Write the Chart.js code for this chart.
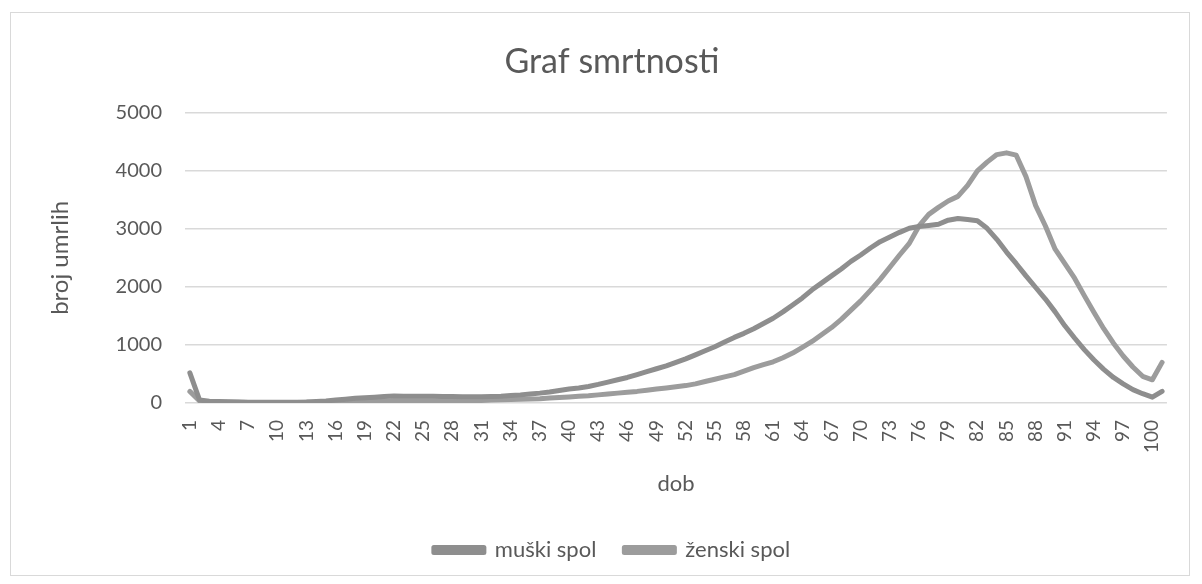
<!DOCTYPE html>
<html>
<head>
<meta charset="utf-8">
<script src="https://cdn.jsdelivr.net/npm/chart.js@4"></script>
<style>
  html, body { margin: 0; padding: 0; background: #ffffff; }
  #wrap { position: absolute; left: 0; top: 0; width: 1202px; height: 584px; }
  #frame { position: absolute; left: 10px; top: 12px; width: 1180px; height: 564px; border: 1px solid #d9d9d9; box-sizing: border-box; pointer-events: none; }
</style>
</head>
<body>
<div id="wrap"><canvas id="c" width="1202" height="584"></canvas></div>
<div id="frame"></div>
<script>
// Age categories 1..101
const ages = [
  1,2,3,4,5,6,7,8,9,10,11,12,13,14,15,16,17,18,19,20,
  21,22,23,24,25,26,27,28,29,30,31,32,33,34,35,36,37,38,39,40,
  41,42,43,44,45,46,47,48,49,50,51,52,53,54,55,56,57,58,59,60,
  61,62,63,64,65,66,67,68,69,70,71,72,73,74,75,76,77,78,79,80,
  81,82,83,84,85,86,87,88,89,90,91,92,93,94,95,96,97,98,99,100,101
];

const muskiSpol = [
  520,50,30,25,20,18,15,14,13,12,13,15,18,25,35,50,65,80,90,100,
  110,120,118,115,115,115,112,110,108,108,108,112,118,130,140,155,170,190,215,240,
  260,285,320,360,400,440,490,540,590,640,700,760,830,900,970,1050,1130,1200,1280,1370,
  1460,1570,1690,1810,1950,2070,2190,2310,2440,2550,2670,2780,2860,2940,3010,3040,3060,3080,3150,3180,
  3160,3140,3010,2820,2600,2400,2190,1990,1790,1570,1330,1120,920,740,580,440,330,230,160,100,200
];

const zenskiSpol = [
  200,35,20,15,13,12,10,10,10,10,10,10,12,15,18,22,25,28,30,32,
  35,38,38,38,38,38,38,40,40,42,45,50,55,60,65,70,75,85,95,105,
  115,125,140,155,170,185,200,220,240,260,280,300,330,370,410,450,490,550,610,660,
  710,780,860,960,1060,1180,1300,1440,1600,1760,1940,2130,2340,2550,2750,3050,3250,3370,3480,3560,
  3750,4000,4150,4280,4310,4270,3900,3400,3050,2650,2400,2150,1850,1560,1280,1030,810,620,460,400,700
];

const yTicks = [0, 1000, 2000, 3000, 4000, 5000];

const FONT = 'Lato, "Open Sans", sans-serif';
const TXT = '#595959';
const GRID = '#d9d9d9';
const C_M = '#8e8e8e';
const C_Z = '#9c9c9c';

new Chart(document.getElementById('c'), {
  type: 'line',
  data: {
    labels: ages.map(String),
    datasets: [
      { label: 'muški spol', data: muskiSpol, borderColor: C_M, backgroundColor: C_M,
        borderWidth: 5, pointRadius: 0, tension: 0, borderCapStyle: 'round', borderJoinStyle: 'round' },
      { label: 'ženski spol', data: zenskiSpol, borderColor: C_Z, backgroundColor: C_Z,
        borderWidth: 5, pointRadius: 0, tension: 0, borderCapStyle: 'round', borderJoinStyle: 'round' }
    ]
  },
  options: {
    responsive: false,
    animation: false,
    devicePixelRatio: 1,
    layout: { padding: { left: 46, right: 24, top: 0, bottom: 13 } },
    plugins: {
      title: {
        display: true, text: 'Graf smrtnosti', color: TXT,
        font: { family: FONT, size: 34, weight: 'normal' },
        padding: { top: 42, bottom: 30 }
      },
      legend: {
        position: 'bottom',
        labels: {
          color: TXT, font: { family: FONT, size: 22 },
          boxWidth: 50, boxHeight: 5, padding: 28
        }
      },
      tooltip: { enabled: false }
    },
    scales: {
      x: {
        type: 'category',
        offset: true,
        afterFit: (s) => { s.height = 108; },
        grid: { display: false, drawTicks: false },
        border: { display: false },
        ticks: {
          autoSkip: false, minRotation: 90, maxRotation: 90,
          color: TXT, font: { family: FONT, size: 19 }, padding: 17,
          callback: function(val, idx) { return (idx % 3 === 0) ? this.getLabelForValue(val) : ''; }
        },
        title: { display: true, text: 'dob', color: TXT, font: { family: FONT, size: 22 }, padding: { top: 10, bottom: 14 } }
      },
      y: {
        min: 0, max: 5000,
        afterFit: (s) => { s.width = 139; },
        afterBuildTicks: (s) => { s.ticks = yTicks.map(v => ({ value: v })); },
        grid: { color: GRID, lineWidth: 1.5, drawTicks: false },
        border: { display: false },
        ticks: { color: TXT, font: { family: FONT, size: 20 }, padding: 23, callback: (v) => String(v) },
        title: { display: true, text: 'broj umrlih', color: TXT, font: { family: FONT, size: 24 }, padding: { top: 0, bottom: 10 } }
      }
    }
  }
});
</script>
</body>
</html>
